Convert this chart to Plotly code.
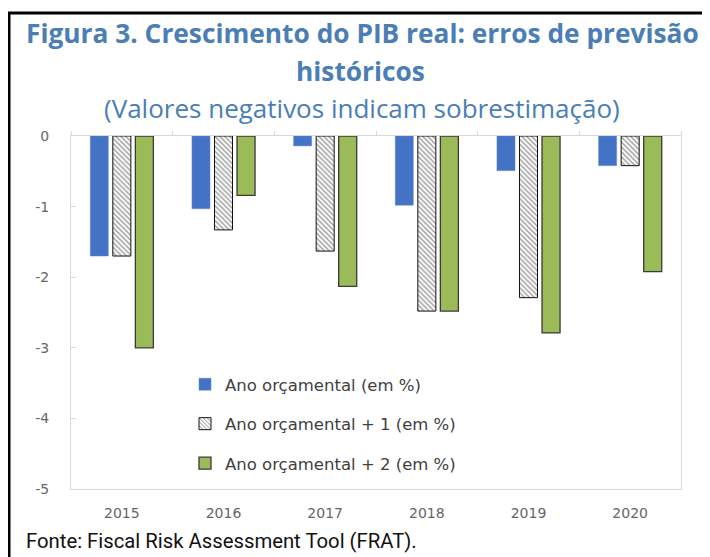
import plotly.graph_objects as go

# page body has an 8px margin: build the figure 8px smaller and work in reference pixel coordinates
OFF = 8
W, H = 710 - OFF, 557 - OFF
L, R, T, B = 71, 681, 136, 489  # plot area in reference pixels

def px(x):
    return (x - L) / (R - L)

def py(y):
    return (B - y) / (B - T)

years = ["2015", "2016", "2017", "2018", "2019", "2020"]
ano = [-1.70, -1.03, -0.14, -0.98, -0.49, -0.42]
ano1 = [-1.70, -1.33, -1.63, -2.48, -2.29, -0.42]
ano2 = [-3.00, -0.84, -2.13, -2.48, -2.79, -1.92]
names = ["Ano orçamental (em %)", "Ano orçamental + 1 (em %)", "Ano orçamental + 2 (em %)"]
ytick_vals = [0, -1, -2, -3, -4, -5]

fig = go.Figure()
fig.add_trace(go.Bar(x=years, y=ano, name=names[0], legendgroup="a",
                     marker=dict(color="#4472C4", line=dict(color="#5b87d6", width=0.5))))
fig.add_trace(go.Bar(x=years, y=ano1, name=names[1], legendgroup="b",
                     marker=dict(color="white", line=dict(color="#111111", width=1),
                                 pattern=dict(shape="\\", fgcolor="#222222", bgcolor="white",
                                              size=3.5, solidity=0.35, fillmode="overlay"))))
fig.add_trace(go.Bar(x=years, y=ano2, name=names[2], legendgroup="c",
                     marker=dict(color="#9BBB59", line=dict(color="#3a3a3a", width=1.3))))

axis_font = dict(family="DejaVu Sans", size=14, color="#666666")

fig.update_layout(
    width=W, height=H,
    margin=dict(l=L - OFF, r=W - (R - OFF), t=T - OFF, b=H - (B - OFF), pad=0),
    paper_bgcolor="white", plot_bgcolor="white",
    barmode="group", bargap=0.335, bargroupgap=0.2,
    showlegend=True,
    legend=dict(x=px(185), y=py(367), xanchor="left", yanchor="top",
                bgcolor="rgba(0,0,0,0)", font=dict(family="DejaVu Sans", size=16.5, color="#404040"),
                tracegroupgap=15, traceorder="grouped", itemwidth=30),
    xaxis=dict(type="category", range=[-0.5, 5.5], showline=True, linecolor="#d9d9d9", linewidth=1,
               ticks="", showgrid=False, tickfont=axis_font, ticklabelstandoff=11),
    xaxis2=dict(overlaying="x", side="top", range=[-0.5, 5.5], showline=True, linecolor="#d9d9d9",
                linewidth=1, ticks="outside", ticklen=4, tickcolor="#d9d9d9",
                tickvals=[-0.5, 0.5, 1.5, 2.5, 3.5, 4.5, 5.5], showticklabels=False, showgrid=False,
                zeroline=False),
    yaxis=dict(range=[-5, 0], tickvals=ytick_vals, ticktext=[str(v) for v in ytick_vals],
               showline=True, linecolor="#d9d9d9", linewidth=1, mirror=True,
               ticks="inside", ticklen=5, tickcolor="#d9d9d9", showgrid=False, zeroline=False,
               tickfont=axis_font, ticklabelstandoff=18),
    font=dict(family="Open Sans"),
)
# invisible trace to activate the top axis (category boundary ticks on the zero line)
fig.add_trace(go.Scatter(x=[0], y=[0], xaxis="x2", mode="markers", marker=dict(opacity=0),
                         showlegend=False, hoverinfo="skip"))

title_color = "#4a7eb5"
fig.add_annotation(text="<b>Figura 3. Crescimento do PIB real: erros de previsão</b>",
                   x=px(362), y=py(33), xref="paper", yref="paper", showarrow=False,
                   xanchor="center", yanchor="middle",
                   font=dict(family="Open Sans", size=26.3, color=title_color))
fig.add_annotation(text="<b>históricos</b>",
                   x=px(360), y=py(71), xref="paper", yref="paper", showarrow=False,
                   xanchor="center", yanchor="middle",
                   font=dict(family="Open Sans", size=26.3, color=title_color))
fig.add_annotation(text="(Valores negativos indicam sobrestimação)",
                   x=px(362), y=py(108), xref="paper", yref="paper", showarrow=False,
                   xanchor="center", yanchor="middle",
                   font=dict(family="Open Sans", size=26, color=title_color))
fig.add_annotation(text="Fonte: Fiscal Risk Assessment Tool (FRAT).",
                   x=px(24), y=py(541), xref="paper", yref="paper", showarrow=False,
                   xanchor="left", yanchor="middle",
                   font=dict(family="Roboto", size=20.3, color="#111111"))

# outer frame (top and left borders)
fig.add_shape(type="line", xref="paper", yref="paper", x0=px(8), x1=px(720), y0=py(13), y1=py(13),
              line=dict(color="black", width=3))
fig.add_shape(type="line", xref="paper", yref="paper", x0=px(9), x1=px(9), y0=py(12), y1=py(570),
              line=dict(color="black", width=3))

fig.write_html("out.html")
